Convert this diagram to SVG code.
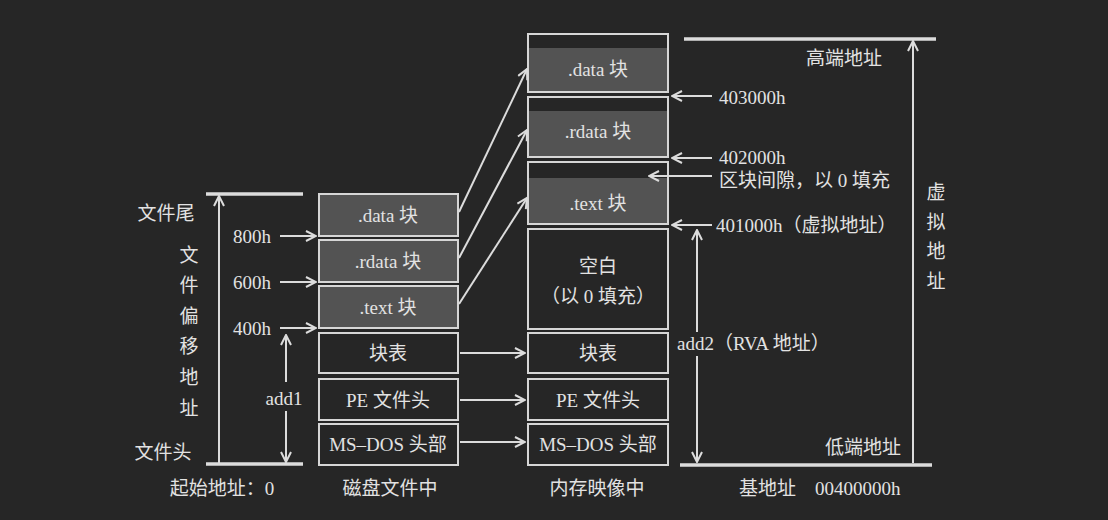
<svg xmlns="http://www.w3.org/2000/svg" width="1108" height="520" viewBox="0 0 1108 520">
<defs>
<marker id="arr" viewBox="0 0 12 12" refX="11" refY="6" markerWidth="12" markerHeight="12" markerUnits="userSpaceOnUse" orient="auto">
<path d="M1,1 L11,6 L1,11" fill="none" stroke="#dcdcdc" stroke-width="2"/>
</marker>
<style>
.t{font-family:"Liberation Serif","Noto Sans CJK SC",serif;font-size:19px;fill:#e2e2e2;text-anchor:middle;dominant-baseline:central}
.l{text-anchor:start}
.box{fill:none;stroke:#d6d6d6;stroke-width:2}
.sh{fill:#535353}
.ln{stroke:#dcdcdc;stroke-width:2;fill:none}
.ax{stroke:#dcdcdc;stroke-width:2;fill:none;marker-end:url(#arr)}
.bar{stroke:#dcdcdc;stroke-width:3.5}
</style>
</defs>
<rect width="1108" height="520" fill="#262626"/>

<g id="disk-data"><rect class="sh" x="320" y="195" width="137" height="40"/><rect class="box" x="319" y="194" width="139" height="42"/><text class="t" x="388" y="215">.data 块</text></g>
<g id="disk-rdata"><rect class="sh" x="320" y="241" width="137" height="40"/><rect class="box" x="319" y="240" width="139" height="42"/><text class="t" x="388" y="261">.rdata 块</text></g>
<g id="disk-text"><rect class="sh" x="320" y="287" width="137" height="40"/><rect class="box" x="319" y="286" width="139" height="42"/><text class="t" x="388" y="307">.text 块</text></g>
<g id="disk-table"><rect class="box" x="319" y="333" width="139" height="40"/><text class="t" x="388" y="353">块表</text></g>
<g id="disk-pe"><rect class="box" x="319" y="379" width="139" height="41"/><text class="t" x="388" y="400">PE 文件头</text></g>
<g id="disk-dos"><rect class="box" x="319" y="424" width="139" height="41"/><text class="t" x="388" y="444">MS–DOS 头部</text></g>

<g id="mem-data"><rect class="sh" x="529" y="48" width="138" height="43"/><rect class="box" x="528" y="34" width="140" height="58"/><text class="t" x="598" y="69">.data 块</text></g>
<g id="mem-rdata"><rect class="sh" x="529" y="111" width="138" height="45"/><rect class="box" x="528" y="97" width="140" height="60"/><text class="t" x="598" y="131">.rdata 块</text></g>
<g id="mem-text"><rect class="sh" x="529" y="178" width="138" height="45"/><rect class="box" x="528" y="162" width="140" height="62"/><text class="t" x="598" y="203">.text 块</text></g>
<g id="mem-blank"><rect class="box" x="528" y="229" width="140" height="100"/><text class="t" x="598" y="266">空白</text><text class="t" x="598" y="296">（以 0 填充）</text></g>
<g id="mem-table"><rect class="box" x="528" y="333" width="140" height="40"/><text class="t" x="598" y="353">块表</text></g>
<g id="mem-pe"><rect class="box" x="528" y="379" width="140" height="41"/><text class="t" x="598" y="400">PE 文件头</text></g>
<g id="mem-dos"><rect class="box" x="528" y="424" width="140" height="41"/><text class="t" x="598" y="444">MS–DOS 头部</text></g>

<g id="left-scale">
<line class="bar" x1="206" y1="194" x2="303" y2="194"/>
<line class="bar" x1="206" y1="464" x2="303" y2="464"/>
<text class="t" x="166" y="213">文件尾</text>
<text class="t" x="163" y="452">文件头</text>
<text class="t" x="189" y="255">文</text>
<text class="t" x="189" y="285">件</text>
<text class="t" x="189" y="316">偏</text>
<text class="t" x="189" y="346">移</text>
<text class="t" x="189" y="377">地</text>
<text class="t" x="189" y="408">址</text>
<text class="t" x="252" y="236">800h</text>
<text class="t" x="252" y="282">600h</text>
<text class="t" x="252" y="328">400h</text>
<text class="t" x="284" y="398">add1</text>
<text class="t" x="222" y="488">起始地址：0</text>
<text class="t" x="390" y="488">磁盘文件中</text>
<text class="t" x="597" y="488">内存映像中</text>
</g>

<g id="right-scale">
<line class="bar" x1="684" y1="39" x2="936" y2="39"/>
<line class="bar" x1="680" y1="465" x2="932" y2="465"/>
<text class="t" x="844" y="58">高端地址</text>
<text class="t" x="863" y="447">低端地址</text>
<text class="t l" x="719" y="97">403000h</text>
<text class="t l" x="719" y="157">402000h</text>
<text class="t l" x="719" y="180">区块间隙，以 0 填充</text>
<text class="t l" x="716" y="225">401000h（虚拟地址）</text>
<text class="t l" x="677" y="343">add2（RVA 地址）</text>
<text class="t" x="936" y="192">虚</text>
<text class="t" x="936" y="222">拟</text>
<text class="t" x="936" y="251">地</text>
<text class="t" x="936" y="281">址</text>
<text class="t l" x="739" y="488">基地址　00400000h</text>
</g>

<g id="connectors">
<line class="ax" x1="219" y1="463" x2="219" y2="196"/>
<line class="ax" x1="280" y1="236" x2="316" y2="236"/>
<line class="ax" x1="280" y1="282" x2="316" y2="282"/>
<line class="ax" x1="280" y1="328" x2="316" y2="328"/>
<line class="ax" x1="286" y1="382" x2="286" y2="335"/>
<line class="ax" x1="286" y1="411" x2="286" y2="462"/>
<line class="ax" x1="459" y1="212" x2="527" y2="69"/>
<line class="ax" x1="459" y1="258" x2="527" y2="130"/>
<line class="ax" x1="459" y1="304" x2="527" y2="198"/>
<line class="ax" x1="460" y1="353" x2="525" y2="353"/>
<line class="ax" x1="460" y1="400" x2="525" y2="400"/>
<line class="ax" x1="460" y1="442" x2="525" y2="442"/>
<line class="ax" x1="712" y1="96" x2="672" y2="96"/>
<line class="ax" x1="712" y1="158" x2="672" y2="158"/>
<line class="ax" x1="712" y1="176" x2="649" y2="176"/>
<line class="ax" x1="712" y1="225" x2="672" y2="225"/>
<line class="ax" x1="697" y1="332" x2="697" y2="230"/>
<line class="ax" x1="697" y1="356" x2="697" y2="462"/>
<line class="ax" x1="913" y1="463" x2="913" y2="41"/>
</g>
</svg>
